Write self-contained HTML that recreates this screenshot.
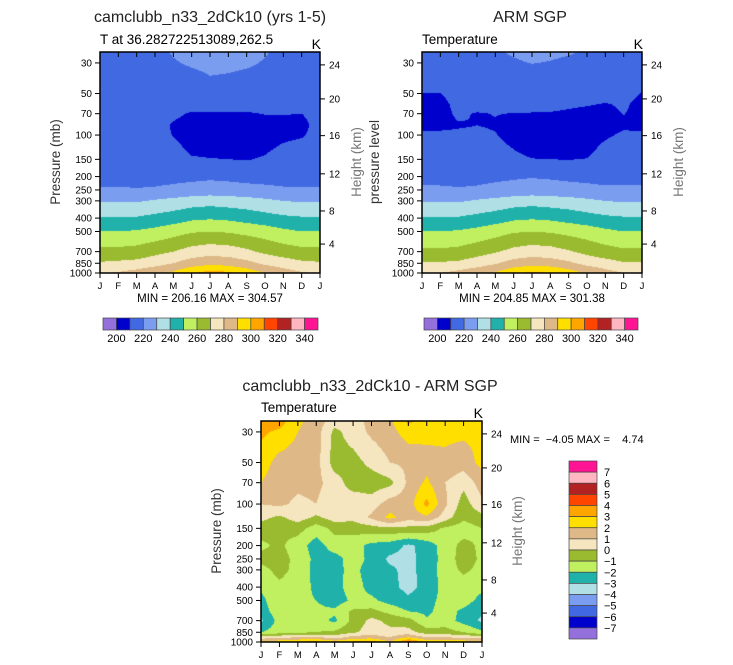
<!DOCTYPE html>
<html><head><meta charset="utf-8">
<style>
body{margin:0;background:#fff;width:733px;height:665px;overflow:hidden;position:relative;font-family:"Liberation Sans",sans-serif;}
canvas{position:absolute;left:0;top:0;}
svg{position:absolute;left:0;top:0;}
</style></head>
<body>
<canvas id="cv" width="733" height="665"></canvas>
<svg id="sv" width="733" height="665"></svg>
<script>
const months = ["J","F","M","A","M","J","J","A","S","O","N","D","J"];
const pTicks = [30,50,70,100,150,200,250,300,400,500,700,850,1000];
const kmTicks = [4,8,12,16,20,24];
const kmPress = [617,355,191,101,54.7,31];
const colors = ["#9370db","#0000cd","#4169e1","#7b9df0","#b0e0e6","#20b2aa","#c0f060","#9abb30","#f5e6c0","#deb887","#ffdf00","#ffa500","#ff4500","#b22222","#ffb6c1","#ff1493"];
const tLevels = [200,210,220,230,240,250,260,270,280,290,300,310,320,330,340];
const dLevels = [-7,-6,-5,-4,-3,-2,-1,0,1,2,3,4,5,6,7];
const tPress = [25,30,40,50,60,70,85,100,130,150,200,250,300,400,500,700,850,1000];
const modelT = [
[216,216,216,217,221,224,225,225,224,221,217,216,216],
[215,215,215,216,219,221.5,223,223,222,219,216,215,215],
[214,214,214,214,215,216,219,218,216,215,214,214,214],
[213,213,213,213,213,213,213,213,213,213,213,213,213],
[213,213,213,213,212,212,212,212,212,212,212,212,213],
[213,213,213,213,211,209.5,209.5,209.5,209.5,210.2,210.2,210,212],
[213,213,213,212,209.5,208,207.5,207.5,207.5,208,208.5,208.5,212],
[213,213,213,212,209.8,208,207.5,207.5,207.5,208,209,209.5,212],
[214,214,214,213,211.5,209.3,209,209,209,209.5,211,212,214],
[215,215,215,214.5,213,210.5,210.2,210,209.7,210.5,212.5,214,215],
[217,217,217,217,217.5,218,218.5,218,217.5,217,217,217,217],
[221,221,220.5,221,222,223,224,223.5,222.5,222,221,221,221],
[229,229,229,231,233,235,236,235,234,232,230,229,229],
[241,241,241,243,245,248,249,248,246,244,242,241,241],
[250,250,251,253,256,259,260,259,257,255,252,250,250],
[263,263,264,267,270,274,276,275,272,268,265,263,263],
[271,272,273,276,280,285,287,286,283,278,275,272,271],
[279,281,284,288,292,299,304,302,296,290,285,281,279]];
const obsT = [
[216,216,216,217,219,221,222,222,221,219,217,216,216],
[215,215,215,216,217.5,219,220.3,219.5,218,216,215,215,215],
[214,214,214,214,214,214,214,214,214,214,214,214,214],
[209.8,209.8,213,214,214,214,214,214,214,214,213,212,209.8],
[208,208,212,213,213,212,212,212,211,210.5,209.5,211,208],
[208,208,211,209.5,210.2,209.8,209.7,209.5,209,208,208,210.2,208],
[208.5,208.8,209.5,210,209.5,208,207,207,207,207,208,209,208.5],
[211,211,211,211,210.3,208,207,207,207,207,209,211,211],
[214,214,213,212.5,212,210.2,208.5,208.5,208.5,208.5,212,214,214],
[215,215,215,214,213.5,211.5,210.2,210,209.8,210.2,213,215,215],
[218,218,218,218,218.5,219,219.5,219,218.5,218,218,218,218],
[221,221,220.5,221,222,223,224,223.5,222.5,222,221,221,221],
[229,229,229,231,233,235,236,235,234,232,230,229,229],
[241,241,241,243,245,248,249,248,246,244,242,241,241],
[250,250,251,253,256,259,260,259,257,255,252,250,250],
[262,262,263,266,269,273,275,274,271,267,264,262,262],
[271,271,272,275,279,284,286,285,282,277,274,271,271],
[278,280,283,287,291,298,302,300,295,289,284,280,278]];
const dPress = [25,30,50,70,100,125,150,200,250,300,400,500,600,700,850,925,1000];
const diffT = [
[3.5,3.5,2.2,1.5,0.5,0.6,1.3,1.8,3.2,2.6,2.4,2.3,2.2],
[3.2,2.8,2.0,1.5,-0.3,0.5,1.2,1.6,2.5,2.3,2.2,2.2,2.2],
[2.5,1.6,1.5,1.4,-0.5,-0.4,0.3,1.0,1.2,1.6,1.8,1.5,2.3],
[2.0,1.4,1.2,1.3,0.5,-0.5,-0.6,-0.3,1.2,2.2,1.0,0.3,1.5],
[1.0,1.2,0.8,1.0,0.2,0.7,0.5,1.5,1.5,3.3,1.2,-0.5,0.8],
[0.3,-0.2,0.5,-0.2,0.5,0.3,1.2,2.3,1.4,1.8,0.5,-0.8,-0.3],
[-0.5,-0.8,-0.6,-1.5,-0.7,-0.6,-0.4,-0.2,-0.3,-0.4,-1.2,-1.5,-1.0],
[-1.2,-0.8,-1.5,-2.5,-1.5,-1.6,-2.3,-2.5,-3.2,-2.6,-1.5,-0.7,-1.2],
[-0.7,-0.6,-1.3,-2.3,-2.4,-1.5,-2.3,-3.2,-3.3,-2.6,-1.6,-0.5,-1.2],
[-1.3,-0.7,-1.3,-2.4,-2.3,-1.7,-2.5,-2.8,-3.3,-2.6,-1.5,-0.8,-1.3],
[-1.8,-1.2,-1.5,-2.2,-2.3,-1.6,-2.3,-2.7,-3.3,-2.7,-1.6,-1.5,-1.8],
[-2.3,-1.2,-1.8,-2.0,-2.5,-1.8,-1.8,-2.4,-2.8,-2.3,-1.7,-1.6,-2.3],
[-2.6,-1.3,-1.6,-1.8,-1.8,-0.8,-0.7,-1.3,-2.0,-2.2,-1.6,-2.2,-2.8],
[-3.2,-1.6,-1.6,-1.6,-2.2,-0.7,0.3,-0.3,-0.6,-1.9,-1.5,-2.4,-3.2],
[-2.0,-1.5,-1.2,-1.0,-0.8,-0.2,0.5,0.3,0.4,-0.5,-0.6,-1.0,-1.8],
[0.5,0.8,1.0,1.2,0.5,1.5,1.5,1.0,2.0,1.0,1.0,0.8,0.6],
[2.2,2.6,3.1,3.3,2.6,3.2,3.6,2.0,4.5,2.8,3.0,2.6,2.2]];

const panels = [
 {id:"model",x:100,y:52,w:220,h:221,press:tPress,vals:modelT,lev:tLevels},
 {id:"obs",x:422,y:52,w:220,h:221,press:tPress,vals:obsT,lev:tLevels},
 {id:"diff",x:261,y:421,w:221,h:221,press:dPress,vals:diffT,lev:dLevels}];
const PTOP=25,PBOT=1000;
function yScale(P,p){return P.y+(Math.log10(p)-Math.log10(PTOP))/(Math.log10(PBOT)-Math.log10(PTOP))*P.h;}
function xScale(P,m){return P.x+m/12*P.w;}
function hex(c){return [parseInt(c.substr(1,2),16),parseInt(c.substr(3,2),16),parseInt(c.substr(5,2),16)];}
const rgb=colors.map(hex);
const ctx=document.getElementById('cv').getContext('2d');
panels.forEach(P=>{
  const img=ctx.createImageData(P.w,P.h);
  const lp=P.press.map(p=>Math.log10(p));
  for(let j=0;j<P.h;j++){
    const L=Math.log10(PTOP)+(j+0.5)/P.h*(Math.log10(PBOT)-Math.log10(PTOP));
    let r=0;while(r<lp.length-2&&L>lp[r+1])r++;
    let t=(L-lp[r])/(lp[r+1]-lp[r]);t=Math.max(0,Math.min(1,t));
    for(let i=0;i<P.w;i++){
      const m=(i+0.5)/P.w*12;let c=Math.min(11,Math.floor(m));const u=m-c;
      const v=(1-t)*((1-u)*P.vals[r][c]+u*P.vals[r][c+1])+t*((1-u)*P.vals[r+1][c]+u*P.vals[r+1][c+1]);
      let k=0;while(k<P.lev.length&&v>=P.lev[k])k++;
      const o=(j*P.w+i)*4;img.data[o]=rgb[k][0];img.data[o+1]=rgb[k][1];img.data[o+2]=rgb[k][2];img.data[o+3]=255;
    }
  }
  ctx.putImageData(img,P.x,P.y);
});
const NS="http://www.w3.org/2000/svg";const sv=document.getElementById('sv');
function el(tag,a,txt){const e=document.createElementNS(NS,tag);for(const k in a)e.setAttribute(k,a[k]);if(txt!==undefined)e.textContent=txt;sv.appendChild(e);return e;}
function txt(x,y,s,size,anchor,name,extra){const e=el('text',Object.assign({x:x,y:y,'font-size':size,'text-anchor':anchor||'start',fill:'#000','font-family':'"Liberation Sans",sans-serif','style':'white-space:pre'},extra||{}),s);

return e;}
panels.forEach(P=>{
  const f=el('rect',{x:P.x,y:P.y,width:P.w,height:P.h,fill:'none',stroke:'#000','stroke-width':1.5});
  
  
  months.forEach((mn,i)=>{const x=xScale(P,i);
    el('line',{x1:x,x2:x,y1:P.y+P.h,y2:P.y+P.h+5,stroke:'#000'});
    el('line',{x1:x,x2:x,y1:P.y,y2:P.y+5,stroke:'#000'});
    txt(x,P.y+P.h+16,mn,9.5,'middle',P.id+'-month-label');});
  pTicks.forEach(p=>{const y=yScale(P,p);
    el('line',{x1:P.x,x2:P.x-5,y1:y,y2:y,stroke:'#000'});
    txt(P.x-8,y+3.5,String(p),10,'end',P.id+'-pressure-tick');});
  kmTicks.forEach((k,i)=>{const y=yScale(P,kmPress[i]);
    el('line',{x1:P.x+P.w,x2:P.x+P.w+5,y1:y,y2:y,stroke:'#000'});
    txt(P.x+P.w+9,y+3.5,String(k),10,'start',P.id+'-height-tick');});
  txt(P.x+P.w+1,P.y-3,'K',14,'end',P.id+'-units');
});
txt(210,22,'camclubb_n33_2dCk10 (yrs 1-5)',16,'middle','model-title',{fill:'#222'});
txt(100,44,'T at 36.282722513089,262.5',13.5,'start','model-subtitle');
txt(530,22,'ARM SGP',16,'middle','obs-title',{fill:'#222'});
txt(422,44,'Temperature',13.5,'start','obs-subtitle');
txt(370,391,'camclubb_n33_2dCk10 - ARM SGP',16,'middle','diff-title',{fill:'#222'});
txt(261,412,'Temperature',13.5,'start','diff-subtitle');
txt(210,302,'MIN = 206.16 MAX = 304.57',11.5,'middle','model-minmax');
txt(532,302,'MIN = 204.85 MAX = 301.38',11.5,'middle','obs-minmax');
txt(510,443,'MIN =  \u22124.05 MAX =    4.74',11,'start','diff-minmax');
txt(0,0,'Pressure (mb)',13.5,'middle','model-y-title',{transform:'translate(60,162) rotate(-90)',fill:'#333'});
txt(0,0,'Height (km)',13.5,'middle','model-y2-title',{transform:'translate(361,162) rotate(-90)',fill:'#777'});
txt(0,0,'pressure level',13.5,'middle','obs-y-title',{transform:'translate(379,162) rotate(-90)',fill:'#333'});
txt(0,0,'Height (km)',13.5,'middle','obs-y2-title',{transform:'translate(683,162) rotate(-90)',fill:'#777'});
txt(0,0,'Pressure (mb)',13.5,'middle','diff-y-title',{transform:'translate(221,531) rotate(-90)',fill:'#333'});
txt(0,0,'Height (km)',13.5,'middle','diff-y2-title',{transform:'translate(522,531) rotate(-90)',fill:'#777'});
[[103,318],[424,638]].forEach((cb,ci)=>{
  const bw=(cb[1]-cb[0])/colors.length;
  colors.forEach((c,i)=>{const r=el('rect',{x:cb[0]+i*bw,y:318,width:bw,height:12,fill:c,stroke:'#444','stroke-width':0.7});
    
    });
  tLevels.forEach((l,i)=>{if(i%2===0)txt(cb[0]+(i+1)*bw,342,String(l),11,'middle','colorbar-label');});
});
const vx=569,vy=461,vh=(639-461)/colors.length;
for(let i=0;i<colors.length;i++){const c=colors[colors.length-1-i];
  const r=el('rect',{x:vx,y:vy+i*vh,width:28,height:vh,fill:c,stroke:'#444','stroke-width':0.7});
  
  }
dLevels.slice().reverse().forEach((l,i)=>{txt(604,vy+(i+1)*vh+4,(l<0?'\u2212':'')+Math.abs(l),11,'start','diff-colorbar-label');});
</script>
</body></html>
